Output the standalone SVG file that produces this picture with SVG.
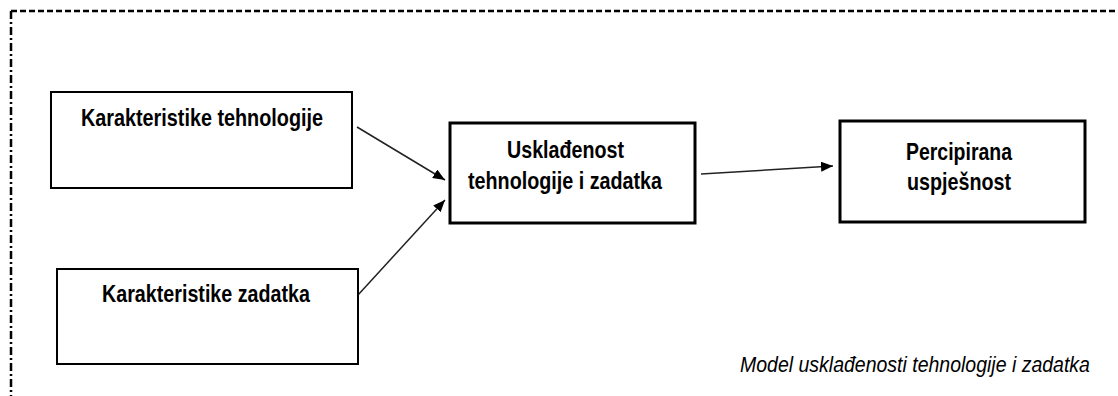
<svg xmlns="http://www.w3.org/2000/svg" width="1118" height="396" viewBox="0 0 1118 396">
<defs>
<style>
.box{fill:#fff;stroke:#000}
.t{font-family:"Liberation Sans",Arial,sans-serif;font-weight:bold;font-size:24px;fill:#000}
.cap{font-family:"Liberation Sans",Arial,sans-serif;font-style:italic;font-size:19.5px;fill:#000}
.ln{stroke:#222;stroke-width:1.5;fill:none;marker-end:url(#ah)}
</style>
<marker id="ah" markerWidth="12" markerHeight="10" refX="12" refY="5" orient="auto" markerUnits="userSpaceOnUse">
<path d="M0,0 L12,5 L0,10 Z" fill="#000"/>
</marker>
</defs>
<rect width="1118" height="396" fill="#fff"/>
<g id="frame">
<path d="M11,11 H1118" stroke="#000" stroke-width="2.5" stroke-dasharray="6 3" fill="none"/>
<path d="M11,11 V396" stroke="#000" stroke-width="2.5" stroke-dasharray="8 3 2 3" fill="none"/>
</g>
<g id="connectors">
<line class="ln" x1="357" y1="127" x2="445" y2="180"/>
<line class="ln" x1="358" y1="295" x2="445" y2="200"/>
<line class="ln" x1="701" y1="174" x2="833" y2="166"/>
</g>
<g id="n1">
<rect class="box" x="51" y="92" width="301" height="96" stroke-width="2"/>
<text class="t" x="81" y="126" textLength="242" lengthAdjust="spacingAndGlyphs">Karakteristike tehnologije</text>
</g>
<g id="n2">
<rect class="box" x="57" y="269" width="301" height="95" stroke-width="2"/>
<text class="t" x="102" y="302" textLength="208" lengthAdjust="spacingAndGlyphs">Karakteristike zadatka</text>
</g>
<g id="n3">
<rect class="box" x="450" y="123" width="245" height="100" stroke-width="3"/>
<text class="t" x="507" y="158" textLength="117" lengthAdjust="spacingAndGlyphs">Usklađenost</text>
<text class="t" x="468" y="189" textLength="194" lengthAdjust="spacingAndGlyphs">tehnologije i zadatka</text>
</g>
<g id="n4">
<rect class="box" x="840" y="121" width="245" height="101" stroke-width="3"/>
<text class="t" x="906" y="160" textLength="106" lengthAdjust="spacingAndGlyphs">Percipirana</text>
<text class="t" x="907" y="190" textLength="104" lengthAdjust="spacingAndGlyphs">uspješnost</text>
</g>
<g id="caption">
<text class="cap" transform="translate(740,372) scale(1,1.15)" x="0" y="0">Model usklađenosti tehnologije i zadatka</text>
</g>
</svg>
